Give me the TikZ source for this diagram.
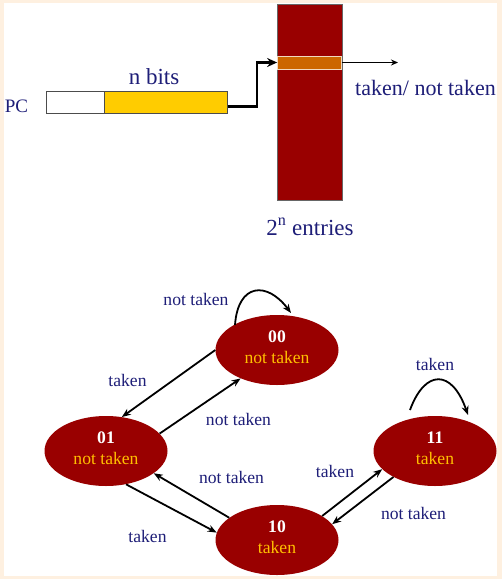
\documentclass[tikz,border=0pt]{standalone}
\usepackage{fontspec}
\setmainfont{Liberation Serif}
\usetikzlibrary{shapes.geometric,arrows.meta}
\definecolor{cream}{HTML}{FEF0E0}
\definecolor{navy}{HTML}{1E1E78}
\definecolor{dred}{HTML}{990000}
\definecolor{gold}{HTML}{FFCC00}
\definecolor{rowor}{HTML}{CC6600}
\definecolor{elltxt}{HTML}{FFC000}
\begin{document}
\begin{tikzpicture}[x=1pt,y=-1pt,
  lbl/.style={text=navy,font=\fontsize{17.6}{20}\selectfont,inner sep=0pt,anchor=base},
  toptxt/.style={text=navy,inner sep=0pt,anchor=base},
  state/.style={ellipse,fill=dred,minimum width=123pt,minimum height=70pt,inner sep=0pt,
    align=center,text=elltxt,font=\fontsize{17.6}{21.5}\selectfont},
  arr/.style={line width=1.8pt,-{Stealth[length=9pt,width=7pt]}},
  reg/.style={draw=black!70,line width=0.8pt,minimum height=22pt,inner sep=0pt,anchor=north west}
]
\useasboundingbox (0,0) rectangle (502,579);
\fill[cream] (0,0) rectangle (502,579);
\fill[white] (4,3) rectangle (497,576);

% top part
\node[reg,fill=white,minimum width=58pt] (pcw) at (46,91) {};
\node[reg,fill=gold,minimum width=123pt] (pcy) at (104,91) {};
\node[toptxt,font=\fontsize{19}{20}\selectfont] (pc) at (16.5,112) {PC};
\node[toptxt,font=\fontsize{23}{24}\selectfont] (nbits) at (154,84) {n bits};
\node[draw=black!60,line width=0.8pt,fill=dred,minimum width=65pt,minimum height=196pt,inner sep=0pt,anchor=north west] (tab) at (277,4) {};
\node[draw=white!75!rowor,line width=0.8pt,fill=rowor,minimum width=64pt,minimum height=13pt,inner sep=0pt] (row) at (309.5,62.5) {};
\draw[line width=2.5pt,-{Stealth[length=10pt,width=9pt]}] ([yshift=-4pt]pcy.east) -- ++(29,0) |- (row.west);
\coordinate (out) at (398,62.5);
\draw[line width=1pt,-{Stealth[length=7pt,width=6pt]}] (row.east) -- (out);
\node[toptxt,font=\fontsize{22}{24}\selectfont] (tnt) at (425.5,95) {taken/ not taken};
\node[toptxt,font=\fontsize{23}{24}\selectfont] (entries) at (310,235) {2\textsuperscript{n} entries};

% state machine
\node[state] (s00) at (277,350) {{\color{white}\bfseries 00}\\not taken\rule[-6pt]{0pt}{0pt}};
\node[state] (s01) at (106,451) {{\color{white}\bfseries 01}\\not taken\rule[-6pt]{0pt}{0pt}};
\node[state] (s10) at (277,540) {{\color{white}\bfseries 10}\\taken\rule[-6pt]{0pt}{0pt}};
\node[state] (s11) at (435,451) {{\color{white}\bfseries 11}\\taken\rule[-6pt]{0pt}{0pt}};

\draw[arr] (s00.180) -- (s01.65);
\draw[arr] (s01.18) -- (s00.218);
\draw[arr] (s10.155) -- (s01.335);
\draw[arr] (s01.301) -- (s10.173);
\draw[arr] (s10.28) -- (s11.199);
\draw[arr] (s11.212) -- (s10.16);
\draw[arr] ([shift={(-42,-25)}]s00.center) .. controls +(3,-42) and +(-24,-32) .. ([shift={(14,-37)}]s00.center);
\draw[arr] ([shift={(-25,-41)}]s11.center) .. controls +(15,-41) and +(-16,-46) .. ([shift={(33,-36)}]s11.center);

\node[lbl] (l1) at (196,305) {not taken};
\node[lbl] (l2) at (127.5,386) {taken};
\node[lbl] (l3) at (238.5,425.7) {not taken};
\node[lbl] (l4) at (231.5,483) {not taken};
\node[lbl] (l5) at (147.5,542.7) {taken};
\node[lbl] (l6) at (335,477) {taken};
\node[lbl] (l7) at (413.5,519) {not taken};
\node[lbl] (l8) at (435,370.7) {taken};
\end{tikzpicture}
\end{document}
